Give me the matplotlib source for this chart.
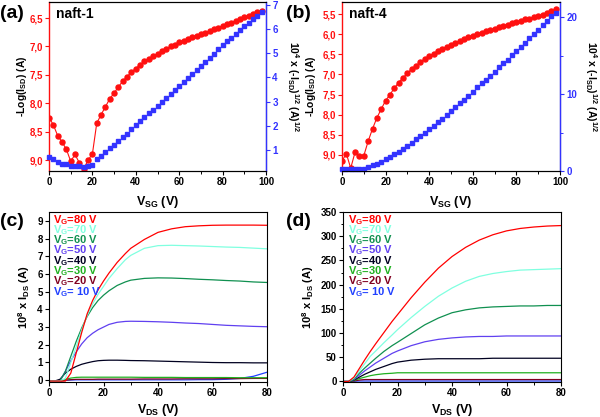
import numpy as np
import matplotlib
matplotlib.use("Agg")
import matplotlib.pyplot as plt
from matplotlib.ticker import FuncFormatter, MultipleLocator

plt.rcParams['font.family'] = ['Liberation Sans', 'DejaVu Sans']
plt.rcParams['font.weight'] = 'bold'
plt.rcParams['mathtext.fontset'] = 'custom'
plt.rcParams['mathtext.rm'] = 'Liberation Sans:bold'
plt.rcParams['mathtext.bf'] = 'Liberation Sans:bold'
plt.rcParams['mathtext.it'] = 'Liberation Sans:bold'
plt.rcParams['mathtext.default'] = 'bf'

# transfer curves (top row), V_SG sweep 0..98 V step 2
vsg = list(range(0, 100, 2))
naft1_log = [8.25, 8.38, 8.57, 8.68, 8.81, 9.02, 8.90, 9.05, 9.15, 9.00, 8.89,
             8.35, 8.20, 8.06, 7.92, 7.82, 7.71, 7.61, 7.53, 7.45, 7.39,
             7.32, 7.26, 7.22, 7.17, 7.13, 7.08, 7.05, 7.00, 6.97, 6.93,
             6.90, 6.87, 6.84, 6.81, 6.78, 6.76, 6.73, 6.70, 6.67, 6.64,
             6.61, 6.58, 6.55, 6.52, 6.49, 6.46, 6.43, 6.40, 6.37]
naft1_sqrt = [0.72, 0.62, 0.50, 0.43, 0.40, 0.33, 0.35, 0.33, 0.30, 0.33, 0.36,
              0.62, 0.77, 0.92, 1.07, 1.22, 1.37, 1.52, 1.68, 1.85, 2.03,
              2.19, 2.35, 2.51, 2.67, 2.83, 2.99, 3.15, 3.31, 3.47, 3.63,
              3.80, 3.97, 4.14, 4.31, 4.48, 4.65, 4.82, 4.99, 5.16, 5.33,
              5.49, 5.65, 5.81, 5.97, 6.12, 6.27, 6.42, 6.56, 6.70]
naft4_log = [9.15, 8.97, 9.33, 8.93, 9.04, 9.02, 8.66, 8.35, 8.08, 7.86, 7.65,
             7.50, 7.34, 7.20, 7.08, 6.97, 6.86, 6.78, 6.69, 6.61, 6.54,
             6.48, 6.42, 6.36, 6.31, 6.26, 6.21, 6.17, 6.12, 6.08, 6.04,
             6.00, 5.96, 5.92, 5.89, 5.86, 5.82, 5.79, 5.76, 5.72, 5.70,
             5.67, 5.63, 5.61, 5.57, 5.55, 5.52, 5.48, 5.43, 5.38]
naft4_sqrt = [0.2, 0.2, 0.2, 0.2, 0.2, 0.26, 0.47, 0.73, 0.94, 1.2, 1.55,
              1.8, 2.2, 2.5, 2.9, 3.3, 3.7, 4.1, 4.5, 5.0, 5.5,
              5.9, 6.4, 6.8, 7.3, 7.8, 8.3, 8.8, 9.3, 9.8, 10.3,
              10.9, 11.4, 11.9, 12.4, 12.9, 13.5, 14.0, 14.5, 15.1, 15.6,
              16.2, 16.7, 17.3, 17.9, 18.4, 19.0, 19.6, 20.2, 20.6]

# output curves (bottom row)
vg_labels = ['V$_G$=80 V', 'V$_G$=70 V', 'V$_G$=60 V', 'V$_G$=50 V',
             'V$_G$=40 V', 'V$_G$=30 V', 'V$_G$=20 V', 'V$_G$= 10 V']
vg_colors = ['#ff0000', '#80ffe0', '#109050', '#6040f0',
             '#000020', '#20b020', '#800020', '#2040ff']

vds_c = [0, 2, 4, 6, 8, 10, 12, 14, 16, 18, 20, 22, 25, 28, 30,
         35, 40, 45, 50, 55, 60, 65, 70, 75, 80]
ids_c = [
    [-0.05, -0.05, -0.05, -0.05, 0.4, 1.55, 2.7, 3.75, 4.5, 5.1, 5.6, 6.05, 6.65, 7.15, 7.45,
     7.95, 8.35, 8.55, 8.67, 8.72, 8.75, 8.76, 8.76, 8.76, 8.75],
    [-0.05, -0.05, -0.05, 0.1, 1.0, 1.9, 2.85, 3.65, 4.3, 4.85, 5.3, 5.75, 6.3, 6.8, 7.05,
     7.45, 7.6, 7.62, 7.6, 7.58, 7.55, 7.52, 7.5, 7.46, 7.42],
    [-0.05, -0.05, -0.05, 0.5, 1.35, 2.2, 2.95, 3.6, 4.1, 4.5, 4.8, 5.05, 5.35, 5.55, 5.65,
     5.75, 5.78, 5.77, 5.74, 5.7, 5.67, 5.63, 5.6, 5.55, 5.52],
    [-0.05, -0.05, -0.05, 0.5, 1.1, 1.6, 2.05, 2.4, 2.65, 2.85, 3.0, 3.15, 3.27, 3.32, 3.33,
     3.32, 3.3, 3.27, 3.23, 3.2, 3.15, 3.1, 3.07, 3.04, 3.02],
    [-0.05, -0.05, 0.05, 0.4, 0.62, 0.78, 0.9, 0.98, 1.05, 1.1, 1.12, 1.13, 1.13, 1.12, 1.11,
     1.1, 1.08, 1.06, 1.04, 1.02, 1.0, 0.99, 0.99, 0.98, 0.98],
    [-0.05, -0.05, -0.05, 0.05, 0.12, 0.16, 0.17, 0.17, 0.17, 0.17, 0.17, 0.17, 0.17, 0.17, 0.17,
     0.16, 0.16, 0.16, 0.15, 0.15, 0.15, 0.15, 0.14, 0.14, 0.14],
    [-0.05, -0.05, -0.05, 0.0, 0.03, 0.05, 0.05, 0.05, 0.05, 0.06, 0.06, 0.06, 0.06, 0.06, 0.06,
     0.07, 0.07, 0.07, 0.08, 0.08, 0.08, 0.09, 0.09, 0.1, 0.1],
    [-0.05, -0.05, -0.05, 0.0, 0.01, 0.02, 0.02, 0.02, 0.02, 0.02, 0.02, 0.02, 0.02, 0.02, 0.02,
     0.02, 0.02, 0.02, 0.02, 0.03, 0.03, 0.05, 0.1, 0.22, 0.45],
]

vds_d = [0, 2, 4, 6, 8, 10, 12, 15, 18, 20, 25, 30, 35, 40, 45, 50, 55, 60, 65, 70, 75, 80]
ids_d = [
    [0, 0, 9, 27, 45, 62, 78, 101, 124, 138, 173, 205, 234, 258, 277, 292, 303, 311, 316, 319, 321, 322],
    [0, 0, 7, 22, 37, 52, 63, 80, 96, 107, 132, 155, 176, 193, 207, 217, 223, 227, 230, 231, 232, 233],
    [0, 0, 5, 17, 28, 38, 48, 62, 74, 81, 99, 117, 131, 142, 148, 152, 154, 155, 156, 156, 157, 157],
    [0, 0, 4, 13, 22, 30, 38, 48, 58, 63, 74, 82, 87, 90, 92, 93, 93, 94, 94, 94, 94, 94],
    [0, 0, 3, 9, 15, 20, 25, 31, 37, 40, 44, 46, 47, 47, 47, 47, 48, 48, 48, 48, 48, 48],
    [0, 0, 2, 6, 9, 12, 14, 16, 17, 18, 18, 18, 18, 18, 18, 18, 18, 18, 18, 18, 18, 18],
    [0, 0, 1, 3, 4, 4, 4, 4, 4, 4, 4, 4, 4, 4, 4, 4, 4, 4, 4, 4, 4, 4],
    [0, 0, 0.5, 1, 1, 1, 1, 1, 1, 1, 1, 1, 1, 1, 1, 1, 1, 1, 1, 1, 1, 1],
]

RED = '#ff1010'
BLUE = '#3333ff'
TICK_FS = 7

W, H = 600, 417
comma = FuncFormatter(lambda v, p: f'{v:.1f}'.replace('.', ','))

fig = plt.figure(figsize=(6, 4.17), dpi=100)


def px_text(x, y, s, **kw):
    # place a figure text by pixel position (from top-left)
    fig.text(x / W, 1 - y / H, s, ha='center', va='center', fontweight='bold', **kw)


def style_axes(ax):
    ax.tick_params(direction='out', length=3, width=0.8, labelsize=TICK_FS, pad=1.5)
    ax.tick_params(which='minor', direction='out', length=1.8, width=0.7)
    for lab in ax.get_xticklabels() + ax.get_yticklabels():
        lab.set_fontweight('bold')


def transfer(rect, vlog, vsqrt, ylim_l, ylim_r, rmajor, rminor, name):
    ax = fig.add_axes(rect)
    ax.plot(vsg, vlog, color=RED, lw=0.8, marker='o', ms=3.6, mec=RED, mfc=RED, zorder=3)
    ax.set_ylim(*ylim_l)
    ax.set_xlim(0, 100)
    ax.xaxis.set_major_locator(MultipleLocator(20))
    ax.xaxis.set_minor_locator(MultipleLocator(10))
    ax.yaxis.set_major_locator(MultipleLocator(0.5))
    ax.yaxis.set_major_formatter(comma)
    ax.spines['left'].set_color(RED)
    ax.spines['left'].set_linewidth(1.0)
    ax.tick_params(axis='y', colors=RED)
    ax.set_xlabel('V$_{SG}$ (V)', fontsize=9, fontweight='bold')
    ax.xaxis.set_label_coords(0.5, -0.135)
    style_axes(ax)
    for lab in ax.get_yticklabels():
        lab.set_color(RED)

    ax2 = ax.twinx()
    ax2.plot(vsg, vsqrt, color=BLUE, lw=0, marker='s', ms=3.2, mec=BLUE, mfc=BLUE, clip_on=False)
    ax2.set_ylim(*ylim_r)
    ax2.yaxis.set_major_locator(MultipleLocator(rmajor))
    if rminor:
        ax2.yaxis.set_minor_locator(MultipleLocator(rminor))
    ax2.spines['right'].set_color(BLUE)
    ax2.spines['right'].set_linewidth(1.0)
    ax2.spines['left'].set_visible(False)
    ax2.tick_params(axis='y', colors=BLUE)
    ax2.tick_params(axis='y', which='minor', colors=BLUE)
    style_axes(ax2)
    for lab in ax2.get_yticklabels():
        lab.set_color(BLUE)

    ax.text(0.03, 0.93, name, transform=ax.transAxes, fontsize=10, fontweight='bold',
            va='center', ha='left')


def output(rect, vds, ids, ylim, ymajor, yminor, leg_x):
    ax = fig.add_axes(rect)
    for curve, col in zip(ids[::-1], vg_colors[::-1]):
        ax.plot(vds, curve, color=col, lw=0.9)
    ax.set_xlim(0, 80)
    ax.set_ylim(*ylim)
    ax.xaxis.set_major_locator(MultipleLocator(20))
    ax.xaxis.set_minor_locator(MultipleLocator(10))
    ax.yaxis.set_major_locator(MultipleLocator(ymajor))
    if yminor:
        ax.yaxis.set_minor_locator(MultipleLocator(yminor))
    ax.set_xlabel('V$_{DS}$ (V)', fontsize=9, fontweight='bold')
    ax.xaxis.set_label_coords(0.5, -0.12)
    style_axes(ax)
    for i, (lab, col) in enumerate(zip(vg_labels, vg_colors)):
        ax.text(leg_x, 0.955 - i * 0.0606, lab, transform=ax.transAxes, color=col,
                fontsize=8, fontweight='bold', va='center', ha='left')


transfer([0.0817, 0.590, 0.3616, 0.405], naft1_log, naft1_sqrt, (9.19, 6.22), (0.13, 7.12),
         1, None, 'naft-1')
transfer([0.570, 0.590, 0.3633, 0.405], naft4_log, naft4_sqrt, (9.40, 5.20), (0.0, 22.0),
         10, 5, 'naft-4')
output([0.0817, 0.084, 0.3633, 0.4076], vds_c, ids_c, (-0.1, 9.5), 1, None, 0.02)
output([0.5717, 0.084, 0.3633, 0.4076], vds_d, ids_d, (-1, 350), 50, 25, 0.025)

# y axis titles
lab_log = '-Log(I$_{SD}$) (A)'
lab_sqrt = '10$^4$ x (-I$_{SD}$)$^{1/2}$ (A)$^{1/2}$'
lab_ids = '10$^8$ x I$_{DS}$ (A)'
px_text(22, 86, lab_log, fontsize=7.5, rotation=90)
px_text(293, 86, lab_sqrt, fontsize=7.5, rotation=-90)
px_text(311, 86, lab_log, fontsize=7.5, rotation=90)
px_text(591, 86, lab_sqrt, fontsize=7.5, rotation=-90)
px_text(24, 297, lab_ids, fontsize=8, rotation=90)
px_text(308, 297, lab_ids, fontsize=8, rotation=90)

# panel letters
for x, y, s in [(12, 13, '(a)'), (298, 13, '(b)'), (12, 221, '(c)'), (298, 221, '(d)')]:
    px_text(x, y, s, fontsize=14)

fig.savefig('out.png', dpi=100)
